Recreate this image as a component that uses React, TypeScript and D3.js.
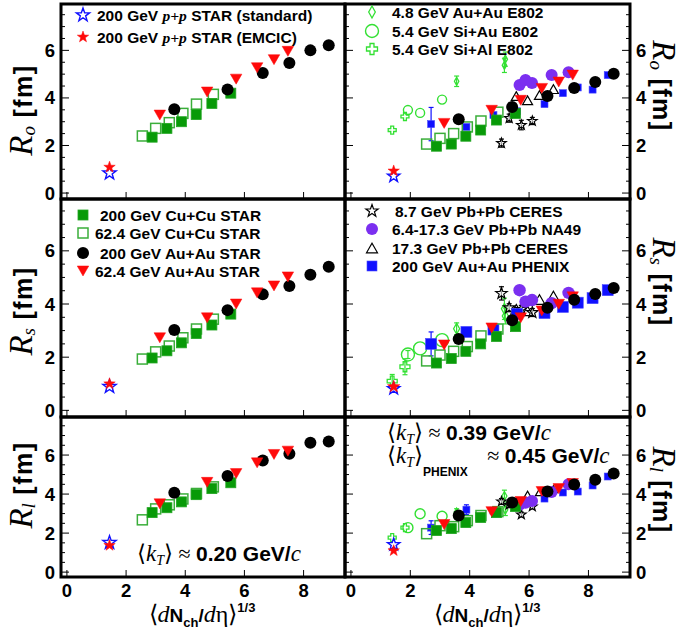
import React from 'react';
import * as d3 from 'd3';

// ---------- data: x = <dNch/deta>^(1/3) ----------
const xPP = 1.44;
const xCuCu200 = [2.88, 3.38, 3.87, 4.37, 4.9, 5.54];
const xCuCu62 = [2.55, 3.0, 3.46, 3.92, 4.38, 4.95];
const xAuAu200 = [3.63, 5.43, 6.62, 7.52, 8.23, 8.85];
const xAuAu62 = [3.14, 4.74, 5.72, 6.43, 7.0, 7.47];
const xPhenix = [2.7, 3.89, 4.8, 5.6, 6.52, 7.14, 7.64, 8.14, 8.65];
const xSiAl = [1.39, 1.82];
const xSiAu = [1.92, 2.33, 3.07];
const xE802AuAu = [3.56, 5.17, 5.2];
const xNA49 = [5.68, 5.88, 6.1, 6.76, 7.33];
const xCeres17 = [5.57, 5.95, 6.35, 6.82];
const xCeres8 = [5.07, 5.33, 5.74, 6.11];

// ---------- left column, <kT> ~ 0.20 GeV/c ----------
const roPPStdL = 0.84, roPPEmcicL = 1.09;
const roCuCu200L = [2.35, 2.72, 3.0, 3.3, 3.77, 4.2];
const roCuCu62L = [2.4, 2.72, 2.96, 3.35, 3.74, 4.15];
const roAuAu200L = [3.52, 4.35, 5.05, 5.47, 6.0, 6.22];
const roAuAu62L = [3.28, 4.25, 4.79, 5.27, 5.61, 5.96];

const rsPPStdL = 0.89, rsPPEmcicL = 1.0;
const rsCuCu200L = [1.97, 2.24, 2.54, 2.89, 3.21, 3.62];
const rsCuCu62L = [1.93, 2.2, 2.42, 2.73, 3.06, 3.43];
const rsAuAu200L = [3.02, 3.77, 4.37, 4.68, 5.1, 5.4];
const rsAuAu62L = [2.73, 3.48, 4.0, 4.42, 4.68, 5.02];

const rlPPStdL = 1.51, rlPPEmcicL = 1.37;
const rlCuCu200L = [3.05, 3.3, 3.6, 3.97, 4.28, 4.58];
const rlCuCu62L = [2.68, 3.24, 3.45, 3.75, 4.03, 4.37];
const rlAuAu200L = [4.07, 4.93, 5.72, 6.07, 6.63, 6.7];
const rlAuAu62L = [3.5, 4.6, 5.05, 5.6, 6.03, 6.2];

// ---------- right column, <kT> ~ 0.39 GeV/c ----------
const roPPStdR = 0.71, roPPEmcicR = 0.93;
const roCuCu200R = [1.97, 2.06, 2.39, 2.65, 3.07, 3.35];
const roCuCu62R = [2.06, 2.3, 2.5, 2.78, 3.03, 3.4];
const roAuAu200R = [3.1, 3.62, 4.08, 4.42, 4.67, 5.02];
const roAuAu62R = [2.93, 3.48, 3.9, 4.4, 4.67, 4.96];
const roPhenix = [2.9, 2.78, 3.28, 3.44, 3.74, 4.2, 4.44, 4.35, 4.96];
const roPhenixErr = [0.7, 0, 0, 0, 0, 0, 0, 0, 0];
const roSiAl = [2.65, 3.22];
const roSiAu = [3.49, 3.37, 3.93];
const roE802AuAu = [4.7, 5.37, 5.63];
const roE802AuAuErr = [0.22, 0.3, 0.3];
const roNA49 = [4.54, 4.75, 4.63, 4.96, 5.08];
const roCeres17 = [4.08, 3.9, 4.12, 4.37];
const roCeres8 = [2.1, 3.15, 2.86, 3.03];
const roCeres8Err = [0.17, 0.17, 0.2, 0.15];

const rsPPStdR = 0.82, rsPPEmcicR = 0.89;
const rsCuCu200R = [1.78, 1.95, 2.22, 2.5, 2.78, 3.15];
const rsCuCu62R = [1.86, 2.08, 2.22, 2.4, 2.8, 3.06];
const rsAuAu200R = [2.68, 3.39, 3.86, 4.16, 4.38, 4.6];
const rsAuAu62R = [2.46, 3.1, 3.48, 3.74, 3.99, 4.27];
const rsPhenix = [2.5, 2.95, 3.04, 3.63, 3.66, 3.89, 4.05, 4.22, 4.52];
const rsPhenixErr = [0.45, 0, 0, 0, 0, 0, 0, 0, 0];
const rsSiAl = [1.1, 1.64];
const rsSiAlErr = [0.25, 0.3];
const rsSiAu = [2.1, 2.33, 2.64];
const rsSiAuErr = [0.15, 0, 0];
const rsE802AuAu = [3.07, 3.82, 3.55];
const rsE802AuAuErr = [0.22, 0.4, 0.3];
const rsNA49 = [4.52, 4.09, 4.15, 4.03, 4.42];
const rsCeres17 = [3.8, 3.74, 4.17, 4.3];
const rsCeres8 = [4.4, 3.86, 3.8, 3.68];
const rsCeres8Err = [0.25, 0.15, 0.15, 0.15];

const rlPPStdR = 1.41, rlPPEmcicR = 1.1;
const rlCuCu200R = [2.13, 2.23, 2.54, 2.8, 3.05, 3.36];
const rlCuCu62R = [1.97, 2.38, 2.33, 2.64, 2.9, 3.1];
const rlAuAu200R = [2.9, 3.57, 4.13, 4.49, 4.74, 5.05];
const rlAuAu62R = [2.44, 3.1, 3.62, 4.13, 4.28, 4.54];
const rlPhenix = [2.28, 3.2, 3.15, 3.55, 3.77, 4.08, 4.13, 4.44, 4.9];
const rlPhenixErr = [0.35, 0.25, 0, 0, 0, 0, 0, 0, 0];
const rlSiAl = [1.77, 2.28];
const rlSiAu = [2.28, 2.99, 2.86];
const rlE802AuAu = [3.05, 3.9, 3.2];
const rlE802AuAuErr = [0.2, 0.3, 0.3];
const rlNA49 = [3.45, 3.55, 3.65, 4.1, 4.5];
const rlCeres17 = [3.4, 3.97, 4.1, 4.25];
const rlCeres8 = [3.62, 3.45, 2.95, 3.36];
const rlCeres8Err = [0.15, 0.15, 0.12, 0.12];

const yTicks = [0, 2, 4, 6];
const xTicks = [0, 2, 4, 6, 8];

// ---------- styling ----------
const SANS = 'Liberation Sans, Arial, sans-serif';
const SERIF = 'Liberation Serif, Times New Roman, serif';
const GREEN = '#089a08';
const GREEN_OPEN = '#3aae3a';
const LIGHT_GREEN = '#33e033';
const BLUE = '#1010ff';
const PURPLE = '#7b2ff0';
const RED = '#ff0a0a';

function starPath(cx: number, cy: number, R: number) {
  const pts: string[] = [];
  for (let i = 0; i < 10; i++) {
    const a = (-90 + i * 36) * Math.PI / 180;
    const r = i % 2 ? R * 0.4 : R;
    pts.push(`${cx + r * Math.cos(a)},${cy + r * Math.sin(a)}`);
  }
  return 'M' + pts.join('L') + 'Z';
}
function triPath(cx: number, cy: number, s: number, down: boolean) {
  const h = s * 0.87;
  if (down) return `M${cx - s / 2},${cy - h / 2}L${cx + s / 2},${cy - h / 2}L${cx},${cy + h / 2}Z`;
  return `M${cx - s / 2},${cy + h / 2}L${cx + s / 2},${cy + h / 2}L${cx},${cy - h / 2}Z`;
}
function diamondPath(cx: number, cy: number, w: number, h: number) {
  return `M${cx},${cy - h / 2}L${cx + w / 2},${cy}L${cx},${cy + h / 2}L${cx - w / 2},${cy}Z`;
}
function crossPath(cx: number, cy: number, s: number, t: number) {
  const a = s / 2, b = t / 2;
  const p = [[-b, -a], [b, -a], [b, -b], [a, -b], [a, b], [b, b], [b, a], [-b, a], [-b, b], [-a, b], [-a, -b], [-b, -b]];
  return 'M' + p.map(([x, y]) => `${cx + x},${cy + y}`).join('L') + 'Z';
}

type Kind = 'ppStd' | 'ppEmcic' | 'cucu200' | 'cucu62' | 'auau200' | 'auau62' | 'phenix' | 'na49' |
  'ceres17' | 'ceres8' | 'e802' | 'siau' | 'sial';

function Marker({ kind, cx, cy, size }: { kind: Kind; cx: number; cy: number; size?: number }) {
  switch (kind) {
    case 'ppStd': return <path d={starPath(cx, cy, size ?? 7)} fill="white" stroke={BLUE} strokeWidth={1.4} />;
    case 'ppEmcic': return <path d={starPath(cx, cy, size ?? 6)} fill={RED} stroke={RED} strokeWidth={0.5} />;
    case 'cucu200': { const s = size ?? 10; return <rect x={cx - s / 2} y={cy - s / 2} width={s} height={s} fill={GREEN} stroke="#22a522" strokeWidth={0.8} />; }
    case 'cucu62': { const s = size ?? 10; return <rect x={cx - s / 2} y={cy - s / 2} width={s} height={s} fill="white" fillOpacity={0} stroke={GREEN_OPEN} strokeWidth={1.5} />; }
    case 'auau200': return <circle cx={cx} cy={cy} r={size ?? 6} fill="black" />;
    case 'auau62': return <path d={triPath(cx, cy, size ?? 11.5, true)} fill={RED} stroke={RED} strokeWidth={0.5} />;
    case 'phenix': { const s = size ?? 8; return <rect x={cx - s / 2} y={cy - s / 2} width={s} height={s} fill={BLUE} stroke="#4a4aff" strokeWidth={0.6} />; }
    case 'na49': return <circle cx={cx} cy={cy} r={size ?? 6} fill={PURPLE} />;
    case 'ceres17': return <path d={triPath(cx, cy, size ?? 10, false)} fill="none" stroke="black" strokeWidth={1.2} />;
    case 'ceres8': return <path d={starPath(cx, cy, size ?? 5.5)} fill="white" fillOpacity={0.6} stroke="black" strokeWidth={1.2} />;
    case 'e802': return <path d={diamondPath(cx, cy, (size ?? 10) * 0.55, size ?? 10)} fill="none" stroke={LIGHT_GREEN} strokeWidth={1.3} />;
    case 'siau': return <circle cx={cx} cy={cy} r={size ?? 5.5} fill="none" stroke={LIGHT_GREEN} strokeWidth={1.4} />;
    case 'sial': return <path d={crossPath(cx, cy, size ?? 10, (size ?? 10) * 0.36)} fill="none" stroke={LIGHT_GREEN} strokeWidth={1.3} />;
  }
  return null;
}

const errColor: Record<string, string> = {
  phenix: BLUE, e802: LIGHT_GREEN, siau: LIGHT_GREEN, sial: LIGHT_GREEN, ceres8: 'black',
};

interface Series { kind: Kind; xs: number[]; ys: number[]; errs?: number[]; size?: number }

const COLS = [{ x0: 61, w: 284 }, { x0: 345, w: 285 }];
const ROWS = [{ y0: 4, h: 195 }, { y0: 199, h: 218 }, { y0: 417, h: 160 }];
const XDOM: [number, number] = [-0.2, 9.4];
const YDOM: [number, number] = [-0.25, 7.95];

function leftSeries(cu200: number[], cu62: number[], au200: number[], au62: number[], ppS: number, ppE: number): Series[] {
  return [
    { kind: 'cucu62', xs: xCuCu62, ys: cu62 },
    { kind: 'cucu200', xs: xCuCu200, ys: cu200 },
    { kind: 'auau200', xs: xAuAu200, ys: au200 },
    { kind: 'auau62', xs: xAuAu62, ys: au62 },
    { kind: 'ppStd', xs: [xPP], ys: [ppS] },
    { kind: 'ppEmcic', xs: [xPP], ys: [ppE] },
  ];
}

function Panel({ col, row, series, side }: { col: number; row: number; series: Series[]; side: 'L' | 'R' }) {
  const { x0, w } = COLS[col];
  const { y0, h } = ROWS[row];
  const x = d3.scaleLinear().domain(XDOM).range([x0, x0 + w]);
  const y = d3.scaleLinear().domain(YDOM).range([y0 + h, y0]);
  const minor = d3.range(0, 8, 0.5).filter(v => v % 2 !== 0);
  const clipId = `clip-${col}-${row}`;
  return (
    <g>
      <defs><clipPath id={clipId}><rect x={x0} y={y0} width={w} height={h} /></clipPath></defs>
      <g clipPath={`url(#${clipId})`}>
        {series.map((s, si) => (
          <g key={si}>
            {s.errs && s.xs.map((xv, i) => s.errs![i] > 0 ? (
              <g key={'e' + i} stroke={errColor[s.kind] || 'black'} strokeWidth={1.2}>
                <line x1={x(xv)} x2={x(xv)} y1={y(s.ys[i] - s.errs![i])} y2={y(s.ys[i] + s.errs![i])} />
                <line x1={x(xv) - 2.5} x2={x(xv) + 2.5} y1={y(s.ys[i] - s.errs![i])} y2={y(s.ys[i] - s.errs![i])} />
                <line x1={x(xv) - 2.5} x2={x(xv) + 2.5} y1={y(s.ys[i] + s.errs![i])} y2={y(s.ys[i] + s.errs![i])} />
              </g>
            ) : null)}
            {s.xs.map((xv, i) => <Marker key={i} kind={s.kind} cx={x(xv)} cy={y(s.ys[i])} size={s.size} />)}
          </g>
        ))}
      </g>
      {/* ticks */}
      <g stroke="black" strokeWidth={1}>
        {yTicks.map(t => <line key={'yl' + t} x1={x0} x2={x0 + 8} y1={y(t)} y2={y(t)} />)}
        {minor.map(t => <line key={'ym' + t} x1={x0} x2={x0 + 4} y1={y(t)} y2={y(t)} />)}
        {side === 'R' && yTicks.map(t => <line key={'yr' + t} x1={x0 + w} x2={x0 + w - 8} y1={y(t)} y2={y(t)} />)}
        {side === 'R' && minor.map(t => <line key={'yrm' + t} x1={x0 + w} x2={x0 + w - 4} y1={y(t)} y2={y(t)} />)}
        {xTicks.map(t => <line key={'x' + t} x1={x(t)} x2={x(t)} y1={y0 + h} y2={y0 + h - 7} />)}
      </g>
      {/* tick labels */}
      <g fontFamily={SANS} fontWeight="bold" fontSize={18.5}>
        {yTicks.map(t => side === 'L'
          ? <text key={t} x={55} y={y(t) + 6.5} textAnchor="end">{t}</text>
          : <text key={t} x={636} y={y(t) + 6.5} textAnchor="start">{t}</text>)}
        {row === 2 && xTicks.map(t => <text key={'xl' + t} x={x(t)} y={597} textAnchor="middle">{t}</text>)}
      </g>
      <rect x={x0} y={y0} width={w} height={h} fill="none" stroke="black" strokeWidth={3} />
    </g>
  );
}

function YTitle({ sub, cx, cy, side }: { sub: string; cx: number; cy: number; side: 'L' | 'R' }) {
  return (
    <text transform={`translate(${cx},${cy}) rotate(${side === 'L' ? -90 : 90})`} textAnchor="middle">
      <tspan fontFamily={SERIF} fontStyle="italic" fontSize={33}>R</tspan>
      <tspan fontFamily={SERIF} fontStyle="italic" fontSize={19} dy={3}>{sub}</tspan>
      <tspan fontFamily={SANS} fontWeight="bold" fontSize={25} dy={-3} letterSpacing={1.5}> [fm]</tspan>
    </text>
  );
}

function XTitle({ cx }: { cx: number }) {
  return (
    <text x={cx} y={622} textAnchor="middle">
      <tspan fontFamily={SERIF} fontSize={24}>⟨</tspan>
      <tspan fontFamily={SERIF} fontStyle="italic" fontSize={24}>d</tspan>
      <tspan fontFamily={SANS} fontWeight="bold" fontSize={19}>N</tspan>
      <tspan fontFamily={SANS} fontWeight="bold" fontSize={13} dy={5}>ch</tspan>
      <tspan fontFamily={SANS} fontWeight="bold" fontSize={19} dy={-5}>/</tspan>
      <tspan fontFamily={SERIF} fontStyle="italic" fontSize={24}>d</tspan>
      <tspan fontFamily={SERIF} fontSize={24}>η⟩</tspan>
      <tspan fontFamily={SANS} fontWeight="bold" fontSize={13} dy={-10}>1/3</tspan>
    </text>
  );
}

function KT({ x, y, value, sub }: { x: number; y: number; value: string; sub?: boolean }) {
  return (
    <text x={x} y={y}>
      <tspan fontFamily={SERIF} fontSize={23}>⟨</tspan>
      <tspan fontFamily={SERIF} fontStyle="italic" fontSize={23}>k</tspan>
      <tspan fontFamily={SERIF} fontStyle="italic" fontSize={14} dy={4}>T</tspan>
      <tspan fontFamily={SERIF} fontSize={23} dy={-4}>⟩</tspan>
      {sub && <tspan fontFamily={SANS} fontWeight="bold" fontSize={12} dy={13}>PHENIX</tspan>}
      <tspan fontFamily={SERIF} fontSize={22} dy={sub ? -13 : 0} dx={sub ? 14 : 0}> ≈ </tspan>
      <tspan fontFamily={SANS} fontWeight="bold" fontSize={21}>{value} GeV/</tspan>
      <tspan fontFamily={SERIF} fontStyle="italic" fontSize={23}>c</tspan>
    </text>
  );
}

function LegendRow({ kind, mx, y, tx, children, size }: { kind: Kind; mx: number; y: number; tx: number; children: React.ReactNode; size?: number }) {
  return (
    <g>
      <Marker kind={kind} cx={mx} cy={y} size={size} />
      <text x={tx} y={y + 5.5} fontFamily={SANS} fontWeight="bold" fontSize={15.5}>{children}</text>
    </g>
  );
}

export default function App() {
  const panels: { col: number; row: number; side: 'L' | 'R'; series: Series[] }[] = [
    { col: 0, row: 0, side: 'L', series: leftSeries(roCuCu200L, roCuCu62L, roAuAu200L, roAuAu62L, roPPStdL, roPPEmcicL) },
    { col: 0, row: 1, side: 'L', series: leftSeries(rsCuCu200L, rsCuCu62L, rsAuAu200L, rsAuAu62L, rsPPStdL, rsPPEmcicL) },
    { col: 0, row: 2, side: 'L', series: leftSeries(rlCuCu200L, rlCuCu62L, rlAuAu200L, rlAuAu62L, rlPPStdL, rlPPEmcicL) },
    {
      col: 1, row: 0, side: 'R', series: [
        { kind: 'sial', xs: xSiAl, ys: roSiAl, size: 8 },
        { kind: 'siau', xs: xSiAu, ys: roSiAu, size: 4.5 },
        { kind: 'e802', xs: xE802AuAu, ys: roE802AuAu, errs: roE802AuAuErr, size: 8 },
        { kind: 'ceres8', xs: xCeres8, ys: roCeres8, errs: roCeres8Err, size: 5 },
        { kind: 'ceres17', xs: xCeres17, ys: roCeres17 },
        { kind: 'na49', xs: xNA49, ys: roNA49 },
        { kind: 'phenix', xs: xPhenix, ys: roPhenix, errs: roPhenixErr, size: 7 },
        { kind: 'cucu62', xs: xCuCu62, ys: roCuCu62R },
        { kind: 'cucu200', xs: xCuCu200, ys: roCuCu200R },
        { kind: 'auau62', xs: xAuAu62, ys: roAuAu62R },
        { kind: 'auau200', xs: xAuAu200, ys: roAuAu200R },
        { kind: 'ppStd', xs: [xPP], ys: [roPPStdR], size: 6.5 },
        { kind: 'ppEmcic', xs: [xPP], ys: [roPPEmcicR], size: 6 },
      ]
    },
    {
      col: 1, row: 1, side: 'R', series: [
        { kind: 'sial', xs: xSiAl, ys: rsSiAl, errs: rsSiAlErr, size: 10 },
        { kind: 'siau', xs: xSiAu, ys: rsSiAu, errs: rsSiAuErr, size: 6.5 },
        { kind: 'e802', xs: xE802AuAu, ys: rsE802AuAu, errs: rsE802AuAuErr, size: 11 },
        { kind: 'ceres8', xs: xCeres8, ys: rsCeres8, errs: rsCeres8Err, size: 6 },
        { kind: 'ceres17', xs: xCeres17, ys: rsCeres17, size: 11 },
        { kind: 'na49', xs: xNA49, ys: rsNA49, size: 6.2 },
        { kind: 'phenix', xs: xPhenix, ys: rsPhenix, errs: rsPhenixErr, size: 11 },
        { kind: 'cucu62', xs: xCuCu62, ys: rsCuCu62R },
        { kind: 'cucu200', xs: xCuCu200, ys: rsCuCu200R },
        { kind: 'auau62', xs: xAuAu62, ys: rsAuAu62R },
        { kind: 'auau200', xs: xAuAu200, ys: rsAuAu200R },
        { kind: 'ppStd', xs: [xPP], ys: [rsPPStdR], size: 6.5 },
        { kind: 'ppEmcic', xs: [xPP], ys: [rsPPEmcicR], size: 6.5 },
      ]
    },
    {
      col: 1, row: 2, side: 'R', series: [
        { kind: 'sial', xs: xSiAl, ys: rlSiAl, size: 8 },
        { kind: 'siau', xs: xSiAu, ys: rlSiAu, size: 5 },
        { kind: 'e802', xs: xE802AuAu, ys: rlE802AuAu, errs: rlE802AuAuErr, size: 9 },
        { kind: 'ceres8', xs: xCeres8, ys: rlCeres8, errs: rlCeres8Err, size: 5 },
        { kind: 'ceres17', xs: xCeres17, ys: rlCeres17, size: 8 },
        { kind: 'na49', xs: xNA49, ys: rlNA49 },
        { kind: 'phenix', xs: xPhenix, ys: rlPhenix, errs: rlPhenixErr, size: 7 },
        { kind: 'cucu62', xs: xCuCu62, ys: rlCuCu62R },
        { kind: 'cucu200', xs: xCuCu200, ys: rlCuCu200R },
        { kind: 'auau62', xs: xAuAu62, ys: rlAuAu62R },
        { kind: 'auau200', xs: xAuAu200, ys: rlAuAu200R },
        { kind: 'ppStd', xs: [xPP], ys: [rlPPStdR], size: 6.5 },
        { kind: 'ppEmcic', xs: [xPP], ys: [rlPPEmcicR], size: 6 },
      ]
    },
  ];

  const pp = (s: string) => (
    <>200 GeV <tspan fontFamily={SERIF} fontStyle="italic" fontWeight="bold">p+p</tspan> STAR ({s})</>
  );

  return (
    <svg width={681} height={635} style={{ display: 'block', position: 'absolute', left: 0, top: 0, background: 'white' }}>
      <rect width={681} height={635} fill="white" />
      {panels.map(p => <Panel key={`${p.col}-${p.row}`} {...p} />)}

      <YTitle sub="o" cx={32} cy={110} side="L" />
      <YTitle sub="s" cx={32} cy={311} side="L" />
      <YTitle sub="l" cx={32} cy={485} side="L" />
      <YTitle sub="o" cx={653} cy={86} side="R" />
      <YTitle sub="s" cx={653} cy={282} side="R" />
      <YTitle sub="l" cx={653} cy={490} side="R" />

      <XTitle cx={202} />
      <XTitle cx={487} />

      {/* legends */}
      <LegendRow kind="ppStd" mx={83} y={15} tx={97} size={7}>{pp('standard')}</LegendRow>
      <LegendRow kind="ppEmcic" mx={83} y={37} tx={97} size={6}>{pp('EMCIC')}</LegendRow>

      <LegendRow kind="e802" mx={372} y={12} tx={392} size={12}>4.8 GeV Au+Au E802</LegendRow>
      <LegendRow kind="siau" mx={372} y={31} tx={392} size={6.5}>5.4 GeV Si+Au E802</LegendRow>
      <LegendRow kind="sial" mx={372} y={49} tx={392} size={11}>5.4 GeV Si+Al E802</LegendRow>

      <LegendRow kind="cucu200" mx={83} y={215} tx={100}>200 GeV Cu+Cu STAR</LegendRow>
      <LegendRow kind="cucu62" mx={83} y={233} tx={95}>62.4 GeV Cu+Cu STAR</LegendRow>
      <LegendRow kind="auau200" mx={83} y={253} tx={100}>200 GeV Au+Au STAR</LegendRow>
      <LegendRow kind="auau62" mx={83} y={271} tx={95}>62.4 GeV Au+Au STAR</LegendRow>

      <LegendRow kind="ceres8" mx={372} y={211} tx={395} size={6.5}>8.7 GeV Pb+Pb CERES</LegendRow>
      <LegendRow kind="na49" mx={372} y={229} tx={392}>6.4-17.3 GeV Pb+Pb NA49</LegendRow>
      <LegendRow kind="ceres17" mx={372} y={248} tx={392} size={11}>17.3 GeV Pb+Pb CERES</LegendRow>
      <LegendRow kind="phenix" mx={372} y={266} tx={392} size={10}>200 GeV Au+Au PHENIX</LegendRow>

      <KT x={137} y={561} value="0.20" />
      <KT x={387} y={440} value="0.39" />
      <KT x={387} y={463} value="0.45" sub />
    </svg>
  );
}
